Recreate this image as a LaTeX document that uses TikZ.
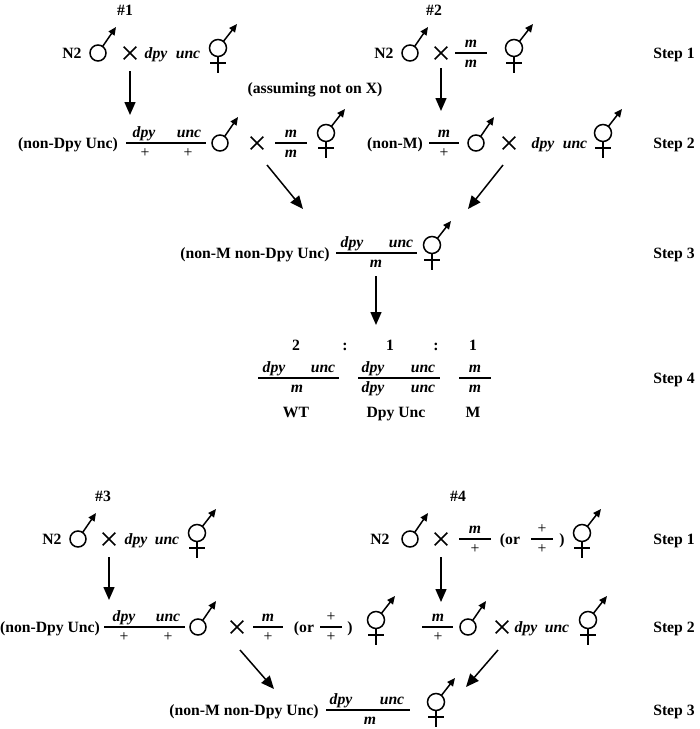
\documentclass[tikz,border=0pt]{standalone}
\usepackage{fontspec}
\setmainfont{Liberation Serif}
\usetikzlibrary{arrows.meta}
\usetikzlibrary{shapes.misc}
\tikzstyle{Lbl}=[anchor=base,inner sep=0pt,font=\fontsize{15.7}{18}\selectfont\bfseries]
\tikzstyle{Gene}=[anchor=base,inner sep=0pt,font=\fontsize{15.7}{18}\selectfont\bfseries\itshape]
\tikzstyle{Plus}=[anchor=base,inner sep=0pt,font=\fontsize{15.7}{18}\selectfont]
\tikzstyle{Bar}=[line width=1.3pt]
\tikzstyle{CrossX}=[draw,cross out,minimum size=11pt,inner sep=0pt,line width=1.6pt]
\tikzstyle{Arr}=[line width=1.5pt,-{Triangle[length=13pt,width=11pt]}]
\tikzset{Male/.pic={
    \draw[line width=1.5pt] (0,0) circle[radius=8pt];
    \draw[line width=1.5pt,-{Triangle[length=8pt,width=7pt]}] (4.6,-6.5) -- (18,-26);},
  Herm/.pic={
    \draw[line width=1.5pt] (0,0) circle[radius=8.5pt];
    \draw[line width=1.5pt,-{Triangle[length=8pt,width=7pt]}] (5.4,-6.6) -- (19,-24);
    \draw[line width=1.5pt] (0,8.5) -- (0,25) (-8,15) -- (8,15);}}

\begin{document}
\begin{tikzpicture}[x=1pt,y=-1pt]
  \useasboundingbox (0,0) rectangle (700,729);
  % cross 1 and 2
  \node[Lbl](c1)at(125,15){\#1};
  \node[Lbl](c2)at(434,15){\#2};
  \node[Lbl](n2a)at(72,58){N2};
  \pic(mA)at(98,53){Male};
  \node[CrossX](xA)at(130,53){};
  \node[Gene](dA)at(156,58){dpy};
  \node[Gene](uA)at(188,58){unc};
  \pic(hA)at(218,48){Herm};
  \node[Lbl](n2b)at(384,58){N2};
  \pic(mB)at(410,53){Male};
  \node[CrossX](xB)at(441,53){};
  \draw[Bar](455,53)--(487,53);
  \node[Gene](tB)at(471,47){m};
  \node[Gene](bB)at(471,67){m};
  \pic(hB)at(514,48){Herm};
  \node[Lbl](st1)at(674,58){Step 1};
  \node[Lbl](asm)at(315,93){(assuming not on X)};
  \coordinate(eA)at(130,115);
  \coordinate(eB)at(441,111);
  \draw[Arr]([yshift=-12pt]xA.south)--(eA);
  \draw[Arr]([yshift=-9pt]xB.south)--(eB);
  % step 2
  \node[Lbl](ndu)at(68,148){(non-Dpy Unc)};
  \draw[Bar](126,143)--(206,143);
  \node[Gene](dC)at(144,137){dpy};
  \node[Gene](uC)at(189,137){unc};
  \node[Plus](pC1)at(145,157){+};
  \node[Plus](pC2)at(188,157){+};
  \pic(mC)at(220,143){Male};
  \node[CrossX](xC)at(257,143){};
  \draw[Bar](275,143)--(307,143);
  \node[Gene](tD)at(291,137){m};
  \node[Gene](bD)at(291,157){m};
  \pic(hD)at(326,133){Herm};
  \node[Lbl](nm)at(395,148){(non-M)};
  \draw[Bar](429,143)--(459,143);
  \node[Gene](tE)at(444,137){m};
  \node[Plus](bE)at(444,157){+};
  \pic(mE)at(476,143){Male};
  \node[CrossX](xE)at(509,143){};
  \node[Gene](dF)at(543,148){dpy};
  \node[Gene](uF)at(575,148){unc};
  \pic(hF)at(603,133){Herm};
  \node[Lbl](st2)at(674,148){Step 2};
  \coordinate(sL)at(267,165);
  \coordinate(eL)at(303,209);
  \coordinate(sR)at(503,165);
  \coordinate(eR)at(468,209);
  \draw[Arr](sL)--(eL);
  \draw[Arr](sR)--(eR);
  % step 3
  \node[Lbl](nmd)at(255,258){(non-M non-Dpy Unc)};
  \draw[Bar](336,253)--(417,253);
  \node[Gene](dG)at(352,247){dpy};
  \node[Gene](uG)at(401,247){unc};
  \node[Gene](bG)at(376,267){m};
  \pic(hG)at(432,245){Herm};
  \node[Lbl](st3)at(674,258){Step 3};
  \coordinate(eG)at(376,325);
  \draw[Arr]([yshift=-9pt]bG.south)--(eG);
  % step 4
  \node[Lbl](r1)at(296,350){2};
  \node[Lbl](k1)at(345,350){:};
  \node[Lbl](r2)at(390,350){1};
  \node[Lbl](k2)at(436,350){:};
  \node[Lbl](r3)at(473,350){1};
  \draw[Bar](258,378)--(339,378);
  \draw[Bar](358,378)--(440,378);
  \draw[Bar](459,378)--(491,378);
  \node[Gene](dH)at(274,372){dpy};
  \node[Gene](uH)at(323,372){unc};
  \node[Gene](bH)at(297,392){m};
  \node[Gene](dI)at(373,372){dpy};
  \node[Gene](uI)at(423,372){unc};
  \node[Gene](dI2)at(373,392){dpy};
  \node[Gene](uI2)at(423,392){unc};
  \node[Gene](tJ)at(475,372){m};
  \node[Gene](bJ)at(475,392){m};
  \node[Lbl](wt)at(296,417){WT};
  \node[Lbl](du)at(396,417){Dpy Unc};
  \node[Lbl](mm)at(473,417){M};
  \node[Lbl](st4)at(674,383){Step 4};
  % cross 3 and 4
  \node[Lbl](c3)at(103,501){\#3};
  \node[Lbl](c4)at(458,501){\#4};
  \node[Lbl](n2c)at(52,544){N2};
  \pic(mK)at(78,539){Male};
  \node[CrossX](xK)at(109,539){};
  \node[Gene](dK)at(136,544){dpy};
  \node[Gene](uK)at(167,544){unc};
  \pic(hK)at(197,533){Herm};
  \node[Lbl](n2d)at(380,544){N2};
  \pic(mL)at(410,539){Male};
  \node[CrossX](xL)at(441,539){};
  \draw[Bar](459,539)--(491,539);
  \node[Gene](tL)at(475,533){m};
  \node[Plus](bL)at(475,553){+};
  \node[Lbl](orL)at(510,544){(or};
  \draw[Bar](531,539)--(553,539);
  \node[Plus](tL2)at(542,533){+};
  \node[Plus](bL2)at(542,553){+};
  \node[Lbl](clL)at(562,544){)};
  \pic(hL)at(582,533){Herm};
  \node[Lbl](st1b)at(674,544){Step 1};
  \coordinate(eK)at(109,600);
  \coordinate(eL2)at(441,602);
  \draw[Arr]([yshift=-12pt]xK.south)--(eK);
  \draw[Arr]([yshift=-12pt]xL.south)--(eL2);
  % step 2
  \node[Lbl](ndu2)at(50,632){(non-Dpy Unc)};
  \draw[Bar](104,627)--(185,627);
  \node[Gene](dM)at(124,621){dpy};
  \node[Gene](uM)at(168,621){unc};
  \node[Plus](pM1)at(124,641){+};
  \node[Plus](pM2)at(168,641){+};
  \pic(mM)at(198,627){Male};
  \node[CrossX](xM)at(237,627){};
  \draw[Bar](253,627)--(283,627);
  \node[Gene](tN)at(268,621){m};
  \node[Plus](bN)at(268,641){+};
  \node[Lbl](orN)at(304,632){(or};
  \draw[Bar](320,627)--(342,627);
  \node[Plus](tN2)at(331,621){+};
  \node[Plus](bN2)at(331,641){+};
  \node[Lbl](clN)at(350,632){)};
  \pic(hN)at(376,620){Herm};
  \draw[Bar](422,627)--(453,627);
  \node[Gene](tP)at(438,621){m};
  \node[Plus](bP)at(438,641){+};
  \pic(mP)at(468,627){Male};
  \node[CrossX](xP)at(502,627){};
  \node[Gene](dP)at(526,632){dpy};
  \node[Gene](uP)at(557,632){unc};
  \pic(hP)at(588,620){Herm};
  \node[Lbl](st2b)at(674,632){Step 2};
  \coordinate(sL2)at(240,650);
  \coordinate(eL3)at(274,689);
  \coordinate(sR2)at(498,650);
  \coordinate(eR2)at(466,687);
  \draw[Arr](sL2)--(eL3);
  \draw[Arr](sR2)--(eR2);
  % step 3
  \node[Lbl](nmd2)at(244,715){(non-M non-Dpy Unc)};
  \draw[Bar](326,710)--(410,710);
  \node[Gene](dQ)at(341,704){dpy};
  \node[Gene](uQ)at(392,704){unc};
  \node[Gene](bQ)at(370,724){m};
  \pic(hQ)at(436,702){Herm};
  \node[Lbl](st3b)at(674,715){Step 3};
\end{tikzpicture}
\end{document}
